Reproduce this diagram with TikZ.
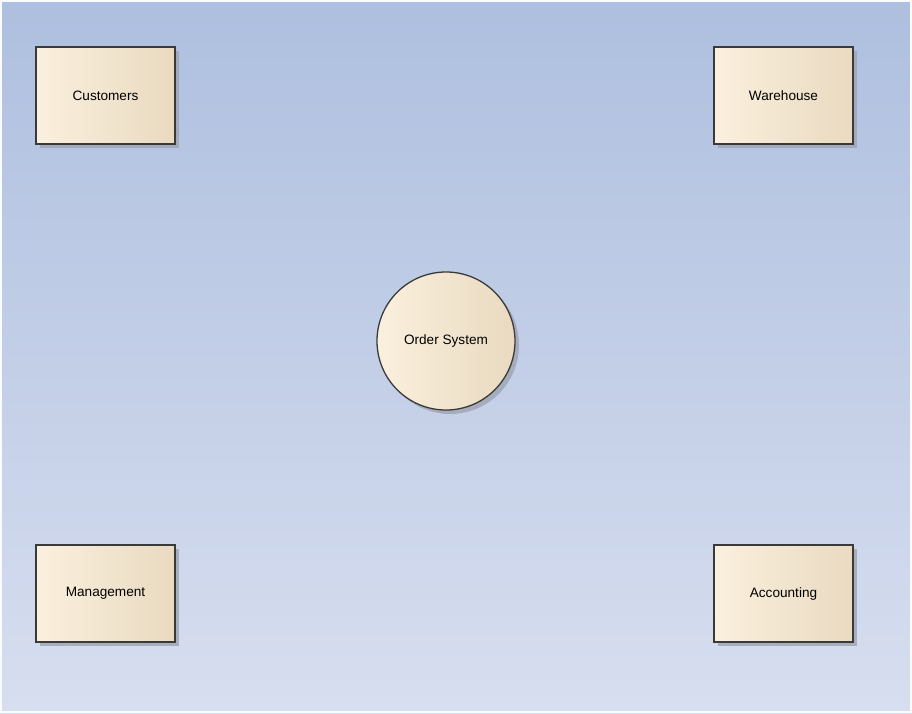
\documentclass[tikz,border=0pt]{standalone}
\usepackage{fontspec}
\setmainfont{Liberation Sans}
\usetikzlibrary{shadows}
\definecolor{bgtop}{HTML}{AEBFDF}
\definecolor{bgbot}{HTML}{D7DEEF}
\definecolor{creamL}{HTML}{FBF0DE}
\definecolor{creamM}{HTML}{FCF3E6}
\definecolor{creamR}{HTML}{E9DAC0}
\definecolor{edge}{HTML}{3A3A3A}
\definecolor{shade}{HTML}{9DA4B3}
\tikzset{
  x=1pt, y=-1pt,
  entity/.style={draw=edge, line width=1.3pt, minimum width=139pt, minimum height=97pt,
    left color=creamL, middle color=creamM, right color=creamR,
    font=\fontsize{13.6}{16}\selectfont,
    drop shadow={shadow xshift=4pt, shadow yshift=-4pt, fill=shade, opacity=0.8}},
  process/.style={entity, circle, minimum size=138pt, minimum width=138pt, minimum height=138pt, inner sep=0pt}
}
\begin{document}
\begin{tikzpicture}
  % backdrop
  \shade[top color=bgtop, bottom color=bgbot] (0,0) rectangle (912,713);
  \draw[white!90!bgbot, line width=2pt] (1,1) rectangle (911,712);
  \useasboundingbox (0,0) rectangle (912,713);
  % external entities
  \node[entity] (cust) at (105.5,95.5) {Customers};
  \node[entity] (ware) at (783.5,95.5) {Warehouse};
  \node[entity] (mgmt) at (105.5,593.5) {Management};
  \node[entity] (acct) at (783.5,593.5) {Accounting};
  % central process
  \node[process] (order) at (446,341) {Order System};
\end{tikzpicture}
\end{document}
